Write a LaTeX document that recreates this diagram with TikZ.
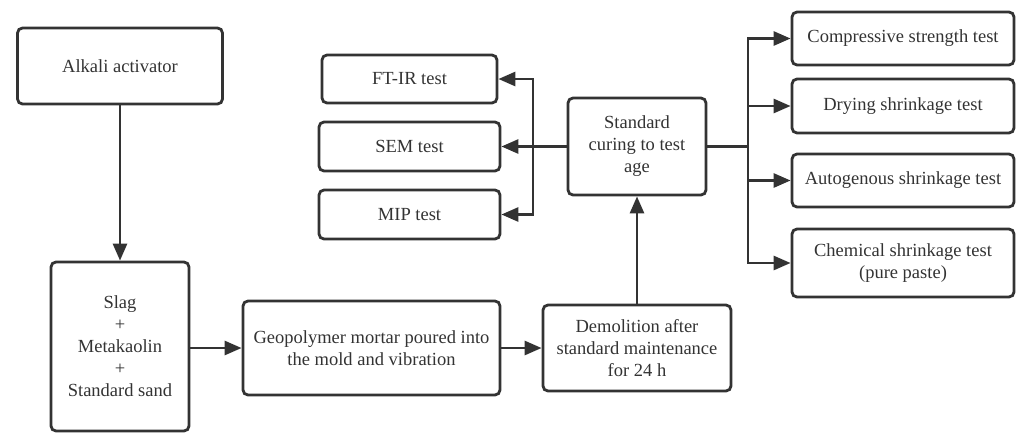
\documentclass[tikz,border=0pt]{standalone}
\usepackage{fontspec}
\setmainfont{Liberation Serif}[Ligatures=TeX]
\usetikzlibrary{arrows.meta}
\definecolor{ink}{HTML}{333333}
\tikzset{
  box/.style={draw=ink, line width=2.8pt, rounded corners=5pt, align=center,
    inner sep=0pt, text=ink, font=\rmfamily\fontsize{18.5}{22}\selectfont},
  arr/.style={draw=ink, line width=2.8pt, -{Triangle[length=17pt,width=14pt]}},
  ln/.style={draw=ink, line width=2.8pt},
}
\begin{document}
\begin{tikzpicture}[x=1pt, y=-1pt]
\useasboundingbox (0,0) rectangle (1018,432);
% process chain
\node[box, minimum width=205pt, minimum height=76pt] (alk) at (120,66) {Alkali activator};
\node[box, minimum width=138pt, minimum height=169pt] (slag) at (120,346.5) {Slag\\+\\Metakaolin\\+\\Standard sand};
\node[box, minimum width=257pt, minimum height=94pt] (geo) at (371.5,348) {Geopolymer mortar poured into\\the mold and vibration};
\node[box, minimum width=188pt, minimum height=86pt] (demo) at (637,348) {Demolition after\\standard maintenance\\for 24 h};
\node[box, minimum width=138pt, minimum height=97pt] (cure) at (637,146.5) {Standard\\curing to test\\age};
% microstructure tests
\node[box, minimum width=175pt, minimum height=48pt] (ftir) at (409.5,79) {FT-IR test};
\node[box, minimum width=181pt, minimum height=49pt] (sem) at (409.5,146.5) {SEM test};
\node[box, minimum width=181pt, minimum height=49pt] (mip) at (409.5,214.5) {MIP test};
% macroscopic tests
\node[box, minimum width=222pt, minimum height=53pt] (comp) at (903,38.5) {Compressive strength test};
\node[box, minimum width=222pt, minimum height=54pt] (dry) at (903,106) {Drying shrinkage test};
\node[box, minimum width=222pt, minimum height=53pt] (auto) at (903,180.5) {Autogenous shrinkage test};
\node[box, minimum width=222pt, minimum height=68pt] (chem) at (903,263) {Chemical shrinkage test\\(pure paste)};
% branch points
\coordinate (bl) at (533,146.5);
\coordinate (br) at (748,146.5);
% connectors
\draw[arr] (alk) -- (slag);
\draw[arr] (slag.east |- geo.west) -- (geo.west);
\draw[arr] (geo) -- (demo);
\draw[arr] (demo) -- (cure);
\draw[arr] (cure.west) -- (sem.east);
\draw[arr] (bl) |- (ftir.east);
\draw[arr] (bl) |- (mip.east);
\draw[ln] (cure.east) -- (br);
\draw[arr] (br) |- (comp.west);
\draw[arr] (br) |- (dry.west);
\draw[arr] (br) |- (auto.west);
\draw[arr] (br) |- (chem.west);
\end{tikzpicture}
\end{document}
